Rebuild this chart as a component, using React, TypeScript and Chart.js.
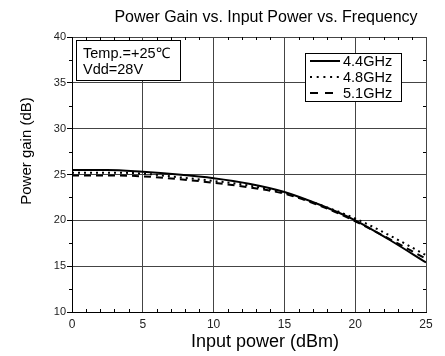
import { useEffect, useRef } from 'react';
import { Chart, registerables } from 'chart.js';

Chart.register(...registerables);

const inputPower = [0, 2.5, 5, 7.5, 10, 12.5, 15, 17.5, 20, 22.5, 25];
const gain44 = [25.5, 25.5, 25.3, 25.0, 24.6, 24.0, 23.1, 21.7, 20.0, 17.8, 15.4];
const gain48 = [25.2, 25.2, 25.1, 24.7, 24.3, 23.8, 23.0, 21.7, 20.2, 18.3, 16.2];
const gain51 = [24.9, 24.9, 24.8, 24.5, 24.1, 23.6, 22.9, 21.6, 19.9, 17.9, 15.8];
const seriesLabels = ['4.4GHz', '4.8GHz', '5.1GHz'];
const xTickValues = [0, 5, 10, 15, 20, 25];
const yTickValues = [10, 15, 20, 25, 30, 35, 40];
const chartTitle = 'Power Gain vs. Input Power vs. Frequency';
const xTitle = 'Input power (dBm)';
const yTitle = 'Power gain (dB)';
const noteLines = ['Temp.=+25\u2103', 'Vdd=28V'];

const FONT = "'Liberation Sans', Arial, sans-serif";
const seriesDash = [[], [2, 4], [7, 5]];
const legendDash = [[], [2, 4.7], [8, 7]];

const decorPlugin = {
  id: 'decor',
  afterDraw(chart: any) {
    const ctx = chart.ctx;
    const xs = chart.scales.x;
    const ys = chart.scales.y;
    const area = chart.chartArea;
    ctx.save();
    // minor ticks
    ctx.strokeStyle = '#000';
    ctx.lineWidth = 1;
    ctx.beginPath();
    for (let v = 1; v < 25; v++) {
      if (v % 5 === 0) continue;
      const px = Math.round(xs.getPixelForValue(v)) + 0.5;
      ctx.moveTo(px, area.bottom);
      ctx.lineTo(px, area.bottom - 3);
      ctx.moveTo(px, area.top);
      ctx.lineTo(px, area.top + 3);
    }
    for (let v = 12.5; v < 40; v += 5) {
      const py = Math.round(ys.getPixelForValue(v)) + 0.5;
      ctx.moveTo(area.left, py);
      ctx.lineTo(area.left - 3, py);
      ctx.moveTo(area.right, py);
      ctx.lineTo(area.right - 3, py);
    }
    ctx.stroke();

    // texts
    ctx.fillStyle = '#000';
    ctx.textAlign = 'center';
    ctx.textBaseline = 'middle';
    ctx.font = `16px ${FONT}`;
    ctx.fillText(chartTitle, 266, 18);
    ctx.font = `18px ${FONT}`;
    ctx.fillText(xTitle, 265, 342);
    ctx.save();
    ctx.translate(27, 151);
    ctx.rotate(-Math.PI / 2);
    ctx.font = `15px ${FONT}`;
    ctx.fillText(yTitle, 0, 0);
    ctx.restore();

    // note box
    ctx.fillStyle = '#fff';
    ctx.fillRect(76, 40, 105, 41);
    ctx.strokeStyle = '#000';
    ctx.strokeRect(76.5, 40.5, 104, 40);
    ctx.fillStyle = '#000';
    ctx.textAlign = 'left';
    ctx.font = `14.5px ${FONT}`;
    ctx.fillText(noteLines[0], 83, 54);
    ctx.fillText(noteLines[1], 83, 70);

    // legend box
    ctx.fillStyle = '#fff';
    ctx.fillRect(305, 53, 97, 49);
    ctx.strokeRect(305.5, 53.5, 96, 48);
    ctx.font = `14.5px ${FONT}`;
    const rows = [61, 77, 93];
    chart.data.datasets.forEach((ds: any, i: number) => {
      ctx.save();
      ctx.setLineDash(legendDash[i]);
      ctx.lineWidth = 2;
      ctx.strokeStyle = '#000';
      ctx.beginPath();
      ctx.moveTo(310, rows[i]);
      ctx.lineTo(340, rows[i]);
      ctx.stroke();
      ctx.restore();
      ctx.fillStyle = '#000';
      ctx.fillText(ds.label, 343, rows[i] + 0.5);
    });
    ctx.restore();
  },
};

export default function App() {
  const ref = useRef<HTMLCanvasElement | null>(null);
  useEffect(() => {
    if (!ref.current) return;
    const mk = (arr: number[]) => inputPower.map((x, i) => ({ x, y: arr[i] }));
    const all = [gain44, gain48, gain51];
    const chart = new Chart(ref.current, {
      type: 'line',
      data: {
        datasets: all.map((arr, i) => ({
          label: seriesLabels[i],
          data: mk(arr),
          borderColor: '#000',
          borderWidth: 2,
          borderDash: seriesDash[i],
          pointRadius: 0,
          fill: false,
          cubicInterpolationMode: 'monotone',
        })),
      },
      options: {
        animation: false,
        responsive: false,
        maintainAspectRatio: false,
        layout: { padding: { top: 37, right: 19, left: 0, bottom: 0 } },
        plugins: { legend: { display: false }, title: { display: false }, tooltip: { enabled: false } },
        scales: {
          x: {
            type: 'linear',
            min: 0,
            max: 25,
            afterBuildTicks: (s: any) => {
              s.ticks = xTickValues.map((v) => ({ value: v }));
            },
            afterFit: (s: any) => {
              s.height = 44;
            },
            grid: { color: '#444', drawTicks: false, lineWidth: 1 },
            border: { display: true, color: '#000', width: 1 },
            ticks: { color: '#222', font: { family: FONT, size: 12 }, padding: 5, maxRotation: 0 },
          },
          y: {
            type: 'linear',
            min: 10,
            max: 40,
            afterBuildTicks: (s: any) => {
              s.ticks = yTickValues.map((v) => ({ value: v }));
            },
            afterFit: (s: any) => {
              s.width = 72;
            },
            grid: { color: '#444', tickColor: '#000', tickLength: 5, lineWidth: 1 },
            border: { display: true, color: '#000', width: 1 },
            ticks: { color: '#222', font: { family: FONT, size: 11 }, padding: 1 },
          },
        },
      },
      plugins: [decorPlugin],
    });
    return () => chart.destroy();
  }, []);
  return (
    <div style={{ position: 'absolute', left: 0, top: 0, width: 445, height: 356, background: '#fff' }}>
      <canvas ref={ref} width={445} height={356} />
    </div>
  );
}
